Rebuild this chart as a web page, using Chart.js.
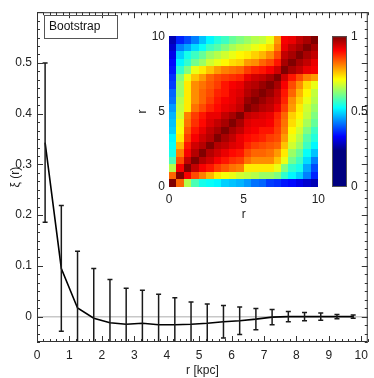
<!DOCTYPE html>
<html>
<head>
<meta charset="utf-8">
<script src="https://cdn.jsdelivr.net/npm/chart.js@4.4.1/dist/chart.umd.min.js"></script>
<style>
html, body { margin: 0; padding: 0; background: #fff; }
#wrap { position: relative; width: 374px; height: 378px; overflow: hidden; }
#wrap canvas { position: absolute; }
</style>
</head>
<body>
<div id="wrap">
  <canvas id="main" width="374" height="378" style="left:0;top:0;width:374px;height:378px"></canvas>
  <canvas id="inset" width="200" height="200" style="left:130px;top:25px;width:200px;height:200px"></canvas>
  <canvas id="cbar" width="74" height="175" style="left:300px;top:25px;width:74px;height:175px"></canvas>
</div>
<script>
// radial bins (kpc) and the bootstrap correlation function with its errors
const rBins = [0.25, 0.75, 1.25, 1.75, 2.25, 2.75, 3.25, 3.75, 4.25, 4.75,
               5.25, 5.75, 6.25, 6.75, 7.25, 7.75, 8.25, 8.75, 9.25, 9.75];
const xi = [0.343, 0.095, 0.017, -0.003, -0.012, -0.015, -0.013, -0.016, -0.016, -0.015,
            -0.013, -0.010, -0.008, -0.005, -0.001, 0.000, 0.000, 0.000, 0.000, 0.000];
const xiErr = [0.157, 0.124, 0.112, 0.098, 0.085, 0.071, 0.065, 0.060, 0.053, 0.044,
               0.038, 0.032, 0.027, 0.021, 0.015, 0.010, 0.008, 0.007, 0.004, 0.003];

const xTicks = [0, 1, 2, 3, 4, 5, 6, 7, 8, 9, 10];
const yTicks = [0, 0.1, 0.2, 0.3, 0.4, 0.5];

// correlation matrix of the bins, row 0 = r at the bottom
const cellEdges = [0, 0.5, 1, 1.5, 2, 2.5, 3, 3.5, 4, 4.5, 5, 5.5, 6, 6.5, 7, 7.5, 8, 8.5, 9, 9.5, 10];
const corr = [
  [1.00,0.83,0.66,0.58,0.54,0.53,0.52,0.49,0.48,0.47,0.45,0.42,0.41,0.38,0.37,0.35,0.34,0.32,0.30,0.28],
  [0.83,1.00,0.91,0.85,0.81,0.77,0.73,0.71,0.70,0.68,0.67,0.66,0.64,0.64,0.62,0.56,0.52,0.49,0.43,0.36],
  [0.66,0.91,1.00,0.95,0.91,0.89,0.86,0.84,0.82,0.81,0.73,0.73,0.73,0.73,0.70,0.62,0.56,0.54,0.46,0.39],
  [0.58,0.85,0.95,1.00,0.96,0.94,0.91,0.89,0.87,0.86,0.82,0.80,0.80,0.80,0.76,0.70,0.61,0.57,0.50,0.43],
  [0.54,0.81,0.91,0.96,1.00,0.96,0.94,0.92,0.90,0.89,0.85,0.83,0.83,0.82,0.79,0.73,0.64,0.60,0.53,0.48],
  [0.53,0.77,0.89,0.94,0.96,1.00,0.96,0.95,0.93,0.92,0.88,0.86,0.85,0.84,0.83,0.76,0.68,0.64,0.57,0.52],
  [0.52,0.73,0.86,0.91,0.94,0.96,1.00,0.97,0.95,0.92,0.90,0.89,0.88,0.86,0.85,0.79,0.70,0.66,0.59,0.55],
  [0.49,0.71,0.84,0.89,0.92,0.95,0.97,1.00,0.97,0.95,0.92,0.91,0.89,0.89,0.86,0.81,0.72,0.68,0.62,0.57],
  [0.48,0.70,0.82,0.87,0.90,0.93,0.95,0.97,1.00,0.97,0.93,0.92,0.92,0.91,0.87,0.82,0.74,0.70,0.65,0.60],
  [0.47,0.68,0.81,0.86,0.89,0.92,0.92,0.95,0.97,1.00,0.95,0.94,0.93,0.92,0.88,0.83,0.75,0.72,0.67,0.62],
  [0.45,0.67,0.73,0.82,0.85,0.88,0.90,0.92,0.93,0.95,1.00,0.98,0.96,0.95,0.92,0.86,0.79,0.73,0.68,0.64],
  [0.42,0.66,0.73,0.80,0.83,0.86,0.89,0.91,0.92,0.94,0.98,1.00,0.98,0.96,0.94,0.88,0.80,0.75,0.70,0.66],
  [0.41,0.64,0.73,0.80,0.83,0.85,0.88,0.89,0.92,0.93,0.96,0.98,1.00,0.98,0.95,0.89,0.83,0.77,0.72,0.67],
  [0.38,0.64,0.73,0.80,0.82,0.84,0.86,0.89,0.91,0.92,0.95,0.96,0.98,1.00,0.97,0.91,0.85,0.80,0.74,0.70],
  [0.37,0.62,0.70,0.76,0.79,0.83,0.85,0.86,0.87,0.88,0.92,0.94,0.95,0.97,1.00,0.94,0.89,0.85,0.81,0.79],
  [0.35,0.56,0.62,0.70,0.73,0.76,0.79,0.81,0.82,0.83,0.86,0.88,0.89,0.91,0.94,1.00,0.97,0.95,0.92,0.91],
  [0.34,0.52,0.56,0.61,0.64,0.68,0.70,0.72,0.74,0.75,0.79,0.80,0.83,0.85,0.89,0.97,1.00,0.97,0.95,0.92],
  [0.32,0.49,0.54,0.57,0.60,0.64,0.66,0.68,0.70,0.72,0.73,0.75,0.77,0.80,0.85,0.95,0.97,1.00,0.97,0.95],
  [0.30,0.43,0.46,0.50,0.53,0.57,0.59,0.62,0.65,0.67,0.68,0.70,0.72,0.74,0.81,0.92,0.95,0.97,1.00,0.97],
  [0.28,0.36,0.39,0.43,0.48,0.52,0.55,0.57,0.60,0.62,0.64,0.66,0.67,0.70,0.79,0.91,0.92,0.95,0.97,1.00]
];
const cbarTicks = [0, 0.5, 1];

const FONT = 'Liberation Sans, Arial, Helvetica, sans-serif';
const TXT = '#222';

// jet colour table, with everything below ~0.24 in dark blue
function colormap(t) {
  let v = (t - 0.24) / 0.76;
  v = Math.max(0, Math.min(1, v));
  const c = k => Math.round(255 * Math.max(0, Math.min(1, 1.5 - Math.abs(4 * v - k))));
  return `rgb(${c(3)},${c(2)},${c(1)})`;
}

const fixTicks = list => scale => { scale.ticks = list.map(v => ({ value: v })); };

// zero line, error bars, axis box with inward ticks, legend box
const mainDecor = {
  id: 'mainDecor',
  beforeDatasetsDraw(chart) {
    const { ctx, chartArea: a, scales: { y } } = chart;
    const y0 = y.getPixelForValue(0);
    ctx.save();
    ctx.strokeStyle = '#c8c8c8';
    ctx.lineWidth = 1.5;
    ctx.beginPath();
    ctx.moveTo(a.left, y0);
    ctx.lineTo(a.right, y0);
    ctx.stroke();
    ctx.restore();
  },
  afterDatasetsDraw(chart) {
    const { ctx, chartArea: a, scales: { x, y } } = chart;
    ctx.save();
    ctx.beginPath();
    ctx.rect(a.left, a.top, a.right - a.left, a.bottom - a.top);
    ctx.clip();
    ctx.strokeStyle = '#1a1a1a';
    ctx.lineWidth = 1.5;
    rBins.forEach((r, i) => {
      const px = x.getPixelForValue(r);
      const top = y.getPixelForValue(xi[i] + xiErr[i]);
      const bot = y.getPixelForValue(xi[i] - xiErr[i]);
      ctx.beginPath();
      ctx.moveTo(px, top); ctx.lineTo(px, bot);
      ctx.moveTo(px - 2.5, top); ctx.lineTo(px + 2.5, top);
      ctx.moveTo(px - 2.5, bot); ctx.lineTo(px + 2.5, bot);
      ctx.stroke();
    });
    ctx.restore();
  },
  afterDraw(chart) {
    const { ctx, chartArea: a, scales: { x, y } } = chart;
    ctx.save();
    ctx.strokeStyle = '#333';
    ctx.lineWidth = 1;
    ctx.strokeRect(a.left + 0.5, a.top + 0.5, a.right - a.left - 1, a.bottom - a.top - 1);
    ctx.beginPath();
    // x ticks, top and bottom
    for (let k = 0; k <= 51; k++) {
      const v = k * 0.2;
      const px = Math.round(x.getPixelForValue(v)) + 0.5;
      const len = k % 5 === 0 ? 6 : 3;
      ctx.moveTo(px, a.bottom); ctx.lineTo(px, a.bottom - len);
      ctx.moveTo(px, a.top); ctx.lineTo(px, a.top + len);
    }
    // y ticks, left and right
    for (let k = -3; k <= 36; k++) {
      const v = k / 60;
      const py = Math.round(y.getPixelForValue(v)) + 0.5;
      const len = k % 6 === 0 ? 6 : 3;
      ctx.moveTo(a.left, py); ctx.lineTo(a.left + len, py);
      ctx.moveTo(a.right, py); ctx.lineTo(a.right - len, py);
    }
    ctx.stroke();
    // legend box
    ctx.strokeStyle = '#555';
    ctx.strokeRect(44.5, 15.5, 73, 23);
    ctx.fillStyle = '#111';
    ctx.font = '12px ' + FONT;
    ctx.textBaseline = 'alphabetic';
    ctx.fillText('Bootstrap', 49, 30);
    ctx.restore();
  }
};

new Chart(document.getElementById('main'), {
  type: 'line',
  data: {
    datasets: [{
      data: rBins.map((r, i) => ({ x: r, y: xi[i] })),
      borderColor: '#000',
      borderWidth: 1.6,
      pointRadius: 0,
      tension: 0,
      fill: false
    }]
  },
  options: {
    responsive: false,
    animation: false,
    devicePixelRatio: 1,
    layout: { padding: { top: 1, right: 2, left: 0, bottom: 0 } },
    plugins: { legend: { display: false }, tooltip: { enabled: false } },
    scales: {
      x: {
        type: 'linear', min: 0, max: 10.2,
        afterBuildTicks: fixTicks(xTicks),
        afterFit: s => { s.height = 36; },
        grid: { display: false, drawTicks: false },
        border: { display: false },
        ticks: { padding: 6, color: TXT, maxRotation: 0, autoSkip: false,
                 font: { family: FONT, size: 12 }, callback: v => String(v) },
        title: { display: true, text: 'r [kpc]', color: TXT, padding: { top: 0, bottom: 0 },
                 font: { family: FONT, size: 12 } }
      },
      y: {
        type: 'linear', min: -0.05, max: 0.6,
        afterBuildTicks: fixTicks(yTicks),
        afterFit: s => { s.width = 37; },
        grid: { display: false, drawTicks: false },
        border: { display: false },
        ticks: { padding: 5, color: TXT, autoSkip: false,
                 font: { family: FONT, size: 12 }, callback: v => v === 0 ? '0' : v.toFixed(1) },
        title: { display: true, text: 'ξ (r)', color: TXT, padding: { top: 8, bottom: 0 },
                 font: { family: FONT, size: 12 } }
      }
    }
  },
  plugins: [mainDecor]
});

// inset: correlation matrix
const heatmap = {
  id: 'heatmap',
  beforeDatasetsDraw(chart) {
    const { ctx, scales: { x, y } } = chart;
    ctx.save();
    for (let j = 0; j < corr.length; j++) {
      for (let i = 0; i < corr[j].length; i++) {
        const x0 = Math.round(x.getPixelForValue(cellEdges[i]));
        const x1 = Math.round(x.getPixelForValue(cellEdges[i + 1]));
        const y0 = Math.round(y.getPixelForValue(cellEdges[j + 1]));
        const y1 = Math.round(y.getPixelForValue(cellEdges[j]));
        ctx.fillStyle = colormap(corr[j][i]);
        ctx.fillRect(x0, y0, x1 - x0, y1 - y0);
      }
    }
    ctx.restore();
  }
};

new Chart(document.getElementById('inset'), {
  type: 'scatter',
  data: { datasets: [] },
  options: {
    responsive: false,
    animation: false,
    devicePixelRatio: 1,
    layout: { padding: { top: 10, right: 11, left: 0, bottom: 0 } },
    plugins: { legend: { display: false }, tooltip: { enabled: false } },
    scales: {
      x: {
        type: 'linear', min: 0, max: 10,
        afterBuildTicks: fixTicks([0, 5, 10]),
        afterFit: s => { s.height = 38; },
        grid: { display: false, drawTicks: false },
        border: { display: false },
        ticks: { padding: 5, color: TXT, maxRotation: 0, font: { family: FONT, size: 12 } },
        title: { display: true, text: 'r', color: TXT, padding: { top: 0, bottom: 3 },
                 font: { family: FONT, size: 12 } }
      },
      y: {
        type: 'linear', min: 0, max: 10,
        afterBuildTicks: fixTicks([0, 5, 10]),
        afterFit: s => { s.width = 39; },
        grid: { display: false, drawTicks: false },
        border: { display: false },
        ticks: { padding: 4, color: TXT, font: { family: FONT, size: 12 } },
        title: { display: true, text: 'r', color: TXT, padding: { top: 5, bottom: 0 },
                 font: { family: FONT, size: 12 } }
      }
    }
  },
  plugins: [heatmap]
});

// colour bar
const colorBar = {
  id: 'colorBar',
  beforeDatasetsDraw(chart) {
    const { ctx, chartArea: a, scales: { y } } = chart;
    ctx.save();
    for (let p = Math.floor(a.top); p < Math.ceil(a.bottom); p++) {
      ctx.fillStyle = colormap(y.getValueForPixel(p + 0.5));
      ctx.fillRect(a.left, p, a.right - a.left, 1);
    }
    ctx.strokeStyle = '#555';
    ctx.lineWidth = 1;
    ctx.strokeRect(a.left + 0.5, a.top + 0.5, a.right - a.left - 1, a.bottom - a.top - 1);
    ctx.restore();
  }
};

new Chart(document.getElementById('cbar'), {
  type: 'scatter',
  data: { datasets: [] },
  options: {
    responsive: false,
    animation: false,
    devicePixelRatio: 1,
    layout: { padding: { top: 10, right: 0, left: 32, bottom: 13 } },
    plugins: { legend: { display: false }, tooltip: { enabled: false } },
    scales: {
      x: { type: 'linear', min: 0, max: 1, display: false },
      y: {
        type: 'linear', position: 'right', min: 0, max: 1,
        afterBuildTicks: fixTicks(cbarTicks),
        afterFit: s => { s.width = 27; },
        grid: { display: false, drawTicks: false },
        border: { display: false },
        ticks: { padding: 4, color: TXT, crossAlign: 'near', font: { family: FONT, size: 12 },
                 callback: v => String(v) }
      }
    }
  },
  plugins: [colorBar]
});
</script>
</body>
</html>
